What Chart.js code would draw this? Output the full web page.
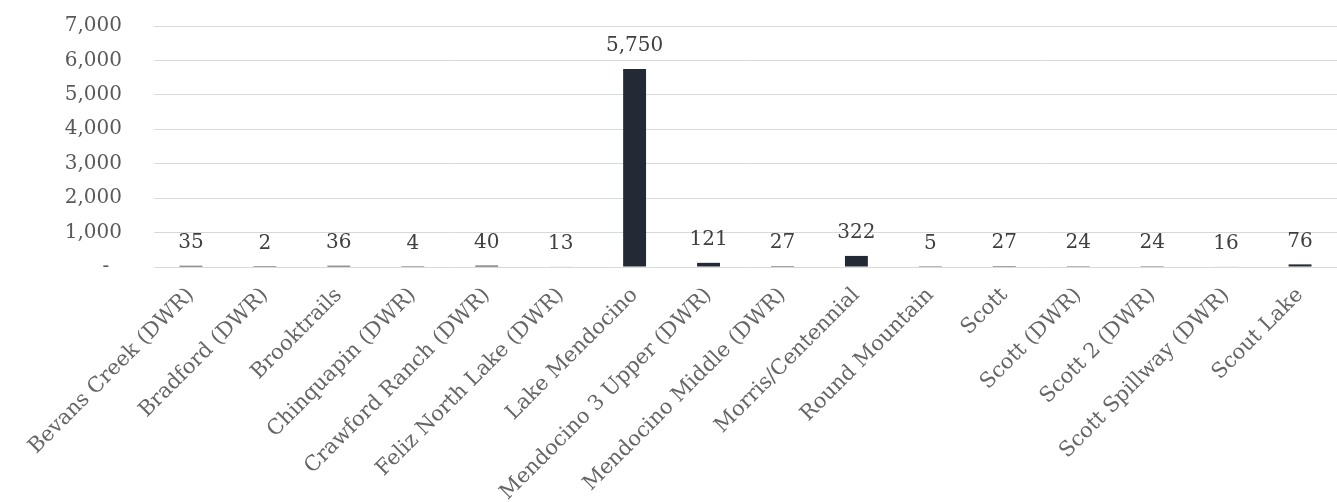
<!DOCTYPE html>
<html>
<head>
<meta charset="utf-8">
<script src="https://cdn.jsdelivr.net/npm/chart.js@4/dist/chart.umd.min.js"></script>
<style>
  html, body { margin: 0; padding: 0; background: #fff; }
  #wrap { width: 1337px; height: 502px; position: relative; }
</style>
</head>
<body>
<div id="wrap"><canvas id="canvas"></canvas></div>
<script>
'use strict';

const stations = [
  'Bevans Creek (DWR)', 'Bradford (DWR)', 'Brooktrails', 'Chinquapin (DWR)',
  'Crawford Ranch (DWR)', 'Feliz North Lake (DWR)', 'Lake Mendocino',
  'Mendocino 3 Upper (DWR)', 'Mendocino Middle (DWR)', 'Morris/Centennial',
  'Round Mountain', 'Scott', 'Scott (DWR)', 'Scott 2 (DWR)',
  'Scott Spillway (DWR)', 'Scout Lake'
];
const volumes = [35, 2, 36, 4, 40, 13, 5750, 121, 27, 322, 5, 27, 24, 24, 16, 76];
const yTicks = [0, 1000, 2000, 3000, 4000, 5000, 6000, 7000];

const FONT = 'DejaVu Serif';
const fmt = v => (v === 0 ? '-  ' : v.toLocaleString('en-US'));

// value labels above each bar
const barLabels = {
  id: 'barLabels',
  afterDatasetsDraw(chart) {
    const ctx = chart.ctx;
    const meta = chart.getDatasetMeta(0);
    ctx.save();
    ctx.font = '20px "' + FONT + '"';
    ctx.fillStyle = '#404040';
    ctx.textAlign = 'center';
    ctx.textBaseline = 'middle';
    meta.data.forEach((bar, i) => {
      ctx.fillText(volumes[i].toLocaleString('en-US'), bar.x, bar.y - 23);
    });
    ctx.restore();
  }
};

const chart = new Chart(document.getElementById('canvas').getContext('2d'), {
  type: 'bar',
  data: {
    labels: stations,
    datasets: [{
      data: volumes,
      backgroundColor: '#232A35',
      categoryPercentage: 1,
      barPercentage: 0.31
    }]
  },
  options: {
    responsive: true,
    maintainAspectRatio: false,
    animation: false,
    layout: { padding: 0 },
    plugins: {
      legend: { display: false },
      tooltip: { enabled: false }
    },
    scales: {
      x: {
        grid: { display: false, drawTicks: false },
        border: { display: false },
        ticks: {
          color: '#666666',
          font: { family: FONT, size: 21 },
          maxRotation: 45,
          minRotation: 45,
          autoSkip: false,
          padding: 16
        },
        afterFit(scale) { scale.height = 235; }
      },
      y: {
        min: 0,
        max: 7000,
        afterBuildTicks(scale) { scale.ticks = yTicks.map(v => ({ value: v })); },
        grid: { color: '#d9d9d9', lineWidth: 1, drawTicks: false },
        border: { display: false },
        ticks: {
          color: '#595959',
          font: { family: FONT, size: 20 },
          padding: 32,
          callback: v => fmt(v)
        },
        afterFit(scale) {
          scale.width = 154;
          scale.paddingTop = 26;
          scale.paddingBottom = 0;
        }
      }
    }
  },
  plugins: [barLabels]
});
</script>
</body>
</html>
